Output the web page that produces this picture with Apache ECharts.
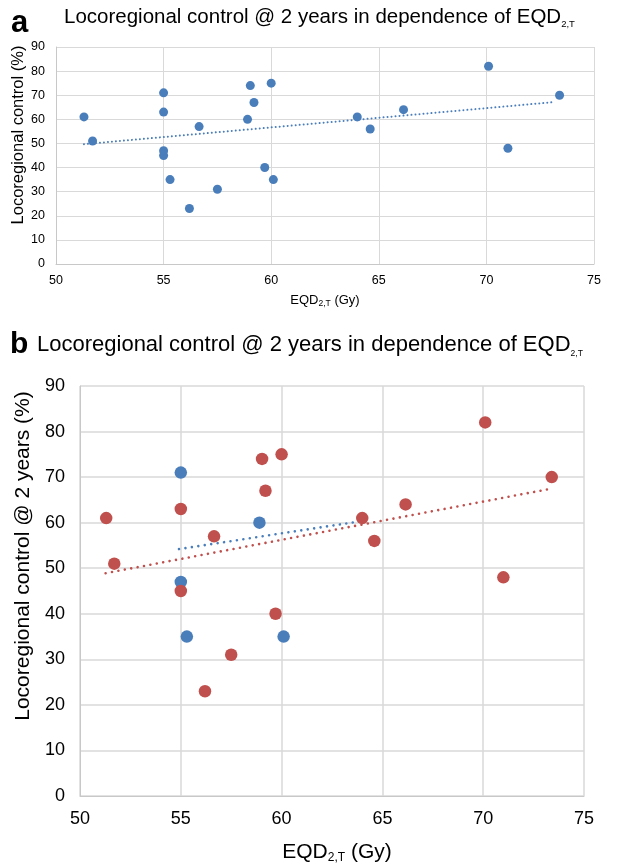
<!DOCTYPE html>
<html><head><meta charset="utf-8">
<script src="https://cdn.jsdelivr.net/npm/echarts@6/dist/echarts.min.js"></script>
<style>html,body{margin:0;padding:0;background:#fff}#c{width:617px;height:866px}</style>
</head><body><div id="c"></div>
<script>
// ---- data ----
const blueX = [55, 55, 55.3, 58.9, 60.1];
const blueY = [71, 47, 35, 60, 35];
const redX = [51.3, 51.7, 55, 55, 56.2, 56.65, 57.5, 59.03, 59.2, 59.7, 60, 64, 64.6, 66.15, 70.1, 71, 73.4];
const redY = [61, 51, 63, 45, 23, 57, 31, 74, 67, 40, 75, 61, 56, 64, 82, 48, 70];
const trendAX = [51.3, 73.2];
const trendAY = [49.7, 67.2];
const trendRedX = [51.27, 73.18];
const trendRedY = [48.9, 67.3];
const trendBlueX = [54.91, 64.42];
const trendBlueY = [54.2, 60.65];
const titleText = 'Locoregional control @ 2 years in dependence of EQD';
const subText = '2,T';
const yNameA = 'Locoregional control (%)';
const yNameB = 'Locoregional control @ 2 years (%)';

const FONT = '"Liberation Sans", Arial, Helvetica, sans-serif';
const BLUE = '#4a7ebb', RED = '#c0504d';
const pts = (xs, ys) => xs.map((x, i) => [x, ys[i]]);
const allX = blueX.concat(redX), allY = blueY.concat(redY);

function xAx(gi, fs, margin) {
  return {type:'value', gridIndex:gi, min:50, max:75, interval:5,
    axisLine:{show:true, lineStyle:{color:'#c8c8c8', width:1}}, axisTick:{show:false},
    splitLine:{show:true, lineStyle:{color:'#d9d9d9', width: gi ? 1.5 : 1}},
    axisLabel:{fontSize:fs, color:'#000', fontFamily:FONT, margin:margin}};
}
function yAx(gi, fs, margin) {
  return {type:'value', gridIndex:gi, min:0, max:90, interval:10,
    axisLine:{show:true, lineStyle:{color:'#c8c8c8', width:1}}, axisTick:{show:false},
    splitLine:{show:true, lineStyle:{color:'#d9d9d9', width: gi ? 1.5 : 1}},
    axisLabel:{fontSize:fs, color:'#000', fontFamily:FONT, margin:margin}};
}

const chart = echarts.init(document.getElementById('c'), null, {renderer:'canvas'});
chart.setOption({
  animation:false,
  backgroundColor:'#fff',
  grid:[
    {left:56, top:47, width:538, height:217},
    {left:80, top:386, width:504, height:410}
  ],
  xAxis:[xAx(0, 12.5, 10), xAx(1, 18, 14)],
  yAxis:[yAx(0, 12.5, 11), yAx(1, 18, 15)],
  series:[
    {type:'line', xAxisIndex:0, yAxisIndex:0, data:pts(trendAX, trendAY), showSymbol:false, z:1,
      lineStyle:{color:BLUE, width:2, type:[0.01, 4], cap:'round'}},
    {type:'scatter', xAxisIndex:0, yAxisIndex:0, data:pts(allX, allY), symbolSize:9, z:2,
      itemStyle:{color:BLUE, opacity:1}},
    {type:'line', xAxisIndex:1, yAxisIndex:1, data:pts(trendBlueX, trendBlueY), showSymbol:false, z:1,
      lineStyle:{color:BLUE, width:2.6, type:[0.01, 6.5], cap:'round'}},
    {type:'line', xAxisIndex:1, yAxisIndex:1, data:pts(trendRedX, trendRedY), showSymbol:false, z:1,
      lineStyle:{color:RED, width:2.6, type:[0.01, 6.5], cap:'round'}},
    {type:'scatter', xAxisIndex:1, yAxisIndex:1, data:pts(blueX, blueY), symbolSize:12.5, z:2,
      itemStyle:{color:BLUE, opacity:1}},
    {type:'scatter', xAxisIndex:1, yAxisIndex:1, data:pts(redX, redY), symbolSize:12.5, z:3,
      itemStyle:{color:RED, opacity:1}}
  ],
  graphic:[
    {type:'text', x:11, y:8, style:{text:'a', font:'bold 31px ' + FONT, fill:'#000', verticalAlign:'top'}},
    {type:'text', x:64, y:17, style:{text:'{m|' + titleText + '}{s|' + subText + '}', verticalAlign:'middle', fill:'#000',
      rich:{m:{fontSize:20.5, fontFamily:FONT, lineHeight:24, fill:'#000'}, s:{fontSize:9.5, fontFamily:FONT, lineHeight:12, verticalAlign:'bottom', fill:'#000'}}}},
    {type:'text', x:18, y:135, rotation:Math.PI/2, style:{text:yNameA, font:'16.5px ' + FONT, fill:'#000', align:'center', verticalAlign:'middle'}},
    {type:'text', x:325, y:300, style:{text:'{m|EQD}{s|' + subText + '}{m| (Gy)}', align:'center', verticalAlign:'middle',
      rich:{m:{fontSize:13, fontFamily:FONT, lineHeight:16, fill:'#000'}, s:{fontSize:8.5, fontFamily:FONT, lineHeight:10, verticalAlign:'bottom', fill:'#000'}}}},
    {type:'text', x:10, y:330, style:{text:'b', font:'bold 30px ' + FONT, fill:'#000', verticalAlign:'top'}},
    {type:'text', x:37, y:345, style:{text:'{m|' + titleText + '}{s|' + subText + '}', verticalAlign:'middle', fill:'#000',
      rich:{m:{fontSize:22, fontFamily:FONT, lineHeight:26, fill:'#000'}, s:{fontSize:8.5, fontFamily:FONT, lineHeight:8, verticalAlign:'bottom', fill:'#000'}}}},
    {type:'text', x:23, y:556, rotation:Math.PI/2, style:{text:yNameB, font:'21px ' + FONT, fill:'#000', align:'center', verticalAlign:'middle'}},
    {type:'text', x:337, y:852, style:{text:'{m|EQD}{s|' + subText + '}{m| (Gy)}', align:'center', verticalAlign:'middle',
      rich:{m:{fontSize:21, fontFamily:FONT, lineHeight:24, fill:'#000'}, s:{fontSize:12, fontFamily:FONT, lineHeight:14, verticalAlign:'bottom', fill:'#000'}}}}
  ]
});
</script></body></html>
